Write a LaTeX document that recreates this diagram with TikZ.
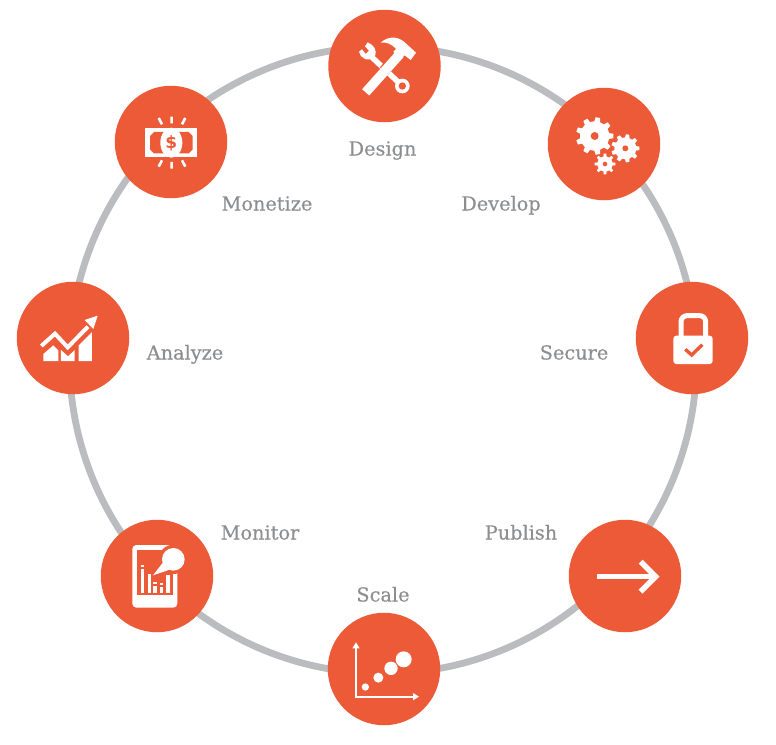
\documentclass[tikz,border=0pt]{standalone}
\usepackage{fontspec}
\setmainfont[FakeBold=0.3]{DejaVu Serif}
\newfontfamily\iconfont{DejaVu Sans}
\definecolor{accent}{HTML}{EC5A38}
\definecolor{ringgray}{HTML}{BBBCC0}
\definecolor{labelgray}{HTML}{8C8E90}
\tikzset{
  stage/.style={circle,fill=accent,draw=none,minimum size=112.5pt,inner sep=0pt},
  lab/.style={text=labelgray,inner sep=0pt,font=\fontsize{19.3pt}{21pt}\selectfont,anchor=base},
  zoomed/.style={shift={(#1)},x=0.33333pt,y=-0.33333pt}
}
\newcommand{\cog}[7]{%
  \begin{scope}[shift={(#1,#2)}]
    \fill[white] (0,0) circle[radius=#3];
    \foreach \k in {1,...,#7}{
      \fill[white,rotate=\k*360/#7] (#3-3,-#6) -- (#4,-#6*0.75) -- (#4,#6*0.75) -- (#3-3,#6) -- cycle;
    }
    \fill[accent] (0,0) circle[radius=#5];
  \end{scope}}
\begin{document}
\begin{tikzpicture}[x=1pt,y=-1pt]
\useasboundingbox (0,0) rectangle (776,744);
\coordinate (hub) at (383,360);
\draw[ringgray,line width=6.8pt] (hub) circle[radius=313.5];
\node[stage] (design) at (384.5,66) {};
\node[stage] (develop) at (604,144) {};
\node[stage] (secure) at (692,338) {};
\node[stage] (publish) at (625,576) {};
\node[stage] (scale) at (384,669) {};
\node[stage] (monitor) at (157,576) {};
\node[stage] (analyze) at (73,338) {};
\node[stage] (monetize) at (171,142) {};
\node[lab] (tdesign) at (382.5,155.5) {Design};
\node[lab] (tdevelop) at (501,210.5) {Develop};
\node[lab] (tsecure) at (574,359.5) {Secure};
\node[lab] (tpublish) at (521,539.5) {Publish};
\node[lab] (tscale) at (383,601.5) {Scale};
\node[lab] (tmonitor) at (260,539.5) {Monitor};
\node[lab] (tanalyze) at (185,359.5) {Analyze};
\node[lab] (tmonetize) at (267,210.5) {Monetize};
% Design icon
\begin{scope}[zoomed={100,0}]
  \draw[white,line width=5.5pt] (907,258) -- (812,168);
  \fill[white] (907,258) circle[radius=22];
  \fill[accent] (907,258) circle[radius=11];
  \fill[white] (777,155) .. controls (780,175) and (805,188) .. (825,170) .. controls (832,150) and (822,135) .. (803,127) -- (795,139) -- (807,152) -- (797,162) -- (786,148) -- cycle;
  \draw[accent,line width=11pt] (852,213) -- (866,197);
  \draw[white,line width=9.5pt] (797,277) -- (900,162);
  \fill[white] (842,128) .. controls (865,108) and (890,108) .. (912,125) -- (948,158) -- (932,180) -- (914,166) -- (902,176) -- (880,156) -- (888,146) .. controls (875,133) and (860,125) .. (842,128) -- cycle;
\end{scope}
% Monetize icon
\begin{scope}[zoomed={100,0}]
  \fill[white] (135,383) rectangle (292,472);
  \fill[accent] (150,408) -- (162,396) -- (266,396) -- (278,408) -- (278,448) -- (266,460) -- (162,460) -- (150,448) -- cycle;
  \fill[white] (214,428) ellipse[x radius=33,y radius=45];
  \node[text=accent,inner sep=0pt,font=\iconfont\fontsize{17pt}{17pt}\selectfont\bfseries] (dollar) at (214,429) {\$};
  \draw[white,line width=2.6pt] (176,354) -- (186,373) (215,350) -- (215,370) (256,354) -- (246,373)
     (186,481) -- (176,500) (215,486) -- (215,506) (246,481) -- (256,500);
\end{scope}
% Develop icon
\begin{scope}[zoomed={450,70}]
  \cog{434}{198}{44}{56}{12}{9}{9}
  \cog{526}{235}{33}{42}{9}{7}{9}
  \cog{465}{282}{23}{31}{7}{5}{8}
\end{scope}
% Secure icon
\begin{scope}[zoomed={450,70}]
  \draw[white,line width=5pt,rounded corners=6pt] (693,800) -- (693,737) -- (767,737) -- (767,800);
  \fill[white,rounded corners=3pt] (670,797) rectangle (788,882);
  \draw[accent,line width=3.4pt] (706,838) -- (725,855) -- (757,824);
\end{scope}
% Analyze icon
\begin{scope}[zoomed={0,270}]
  \fill[white] (130,273) -- (130,252) -- (160,226) -- (175,241) -- (175,273) -- cycle;
  \fill[white] (183,273) -- (183,240) -- (204,259) -- (224,240) -- (224,273) -- cycle;
  \fill[white] (236,273) -- (236,226) -- (276,186) -- (276,273) -- cycle;
  \draw[white,line width=4pt] (124,228) -- (165,191) -- (203,232) -- (264,170);
  \fill[white] (293,137) -- (254,150) -- (280,177) -- cycle;
\end{scope}
% Monitor icon
\begin{scope}[zoomed={0,270}]
  \fill[white,rounded corners=4pt] (397,825) rectangle (532,1013);
  \fill[accent] (410,840) rectangle (520,975);
  \fill[accent] (520,868) circle[radius=44];
  \fill[white] (520,868) circle[radius=34];
  \fill[white] (459,916) -- (490,876) -- (512,898) -- cycle;
  \fill[white] (422,896) rectangle (432,970);
  \fill[white] (422,884) rectangle (432,891);
  \fill[white] (443,912) rectangle (452,970);
  \fill[white] (460,948) rectangle (471,970);
  \fill[white] (460,935) rectangle (471,943);
  \fill[white] (479,951) rectangle (490,970);
  \fill[white] (479,939) rectangle (490,946);
  \fill[white] (498,915) rectangle (510,970);
\end{scope}
% Scale icon
\begin{scope}[zoomed={320,510}]
  \draw[white,line width=2pt] (108,562) -- (108,412);
  \draw[white,line width=2pt] (104,560) -- (282,560);
  \fill[white] (108,397) -- (97,415) -- (119,415) -- cycle;
  \fill[white] (297,560) -- (279,549) -- (279,571) -- cycle;
  \fill[white] (136,531) circle[radius=11];
  \fill[white] (175,503) circle[radius=15];
  \fill[white] (213,475) circle[radius=20];
  \fill[white] (251,448) circle[radius=24];
\end{scope}
% Publish icon
\begin{scope}[zoomed={320,510}]
  \draw[white,line width=5.5pt] (830,200) -- (1005,200);
  \draw[white,line width=5.5pt] (962,155) -- (1007,200) -- (962,245);
\end{scope}
\end{tikzpicture}
\end{document}
